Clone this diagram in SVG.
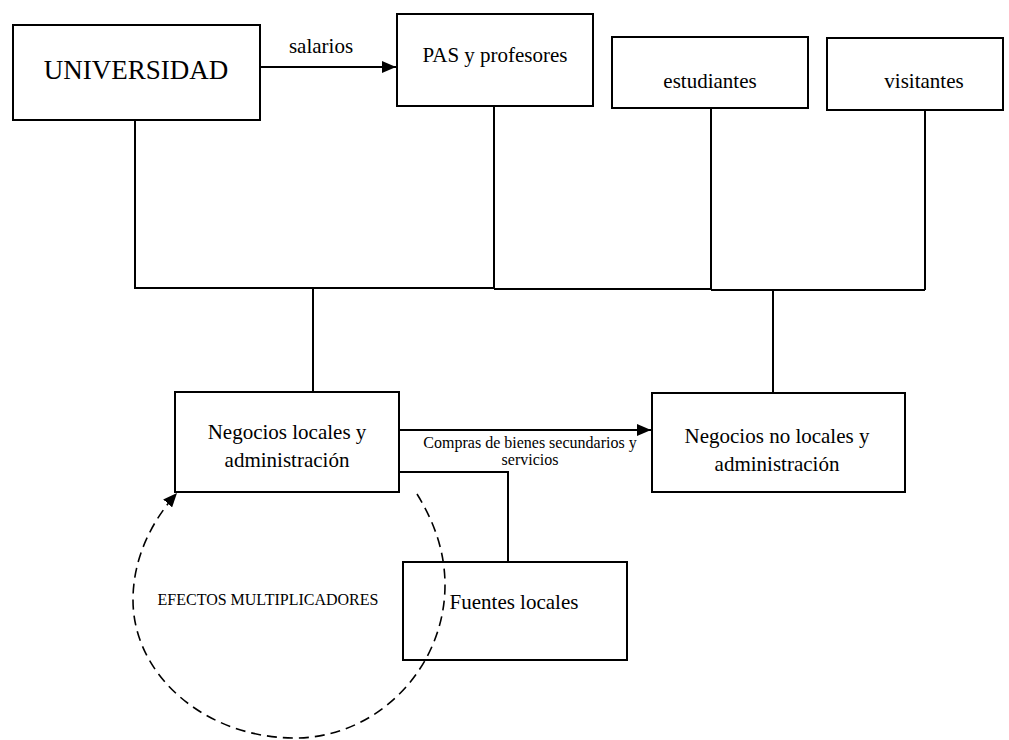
<svg xmlns="http://www.w3.org/2000/svg" width="1009" height="740" viewBox="0 0 1009 740">
<style>
.box{fill:#fff;stroke:#000;stroke-width:2}
.ln{fill:none;stroke:#000;stroke-width:2}
.dash{fill:none;stroke:#000;stroke-width:1.6;stroke-dasharray:10 6}
text{font-family:"Liberation Serif","Times New Roman",serif;fill:#000;text-anchor:middle}
</style>
<defs>
<marker id="ah" viewBox="0 0 14 12" refX="14" refY="6" markerWidth="14" markerHeight="12" markerUnits="userSpaceOnUse" orient="auto">
<path d="M0,0 L14,6 L0,12 z" fill="#000"/>
</marker>
</defs>
<g id="universidad"><rect class="box" x="13" y="25" width="247" height="95"/><text x="136" y="79" font-size="27">UNIVERSIDAD</text></g>
<g id="pas"><rect class="box" x="397" y="14" width="196" height="92"/><text x="495" y="62" font-size="21">PAS y profesores</text></g>
<g id="estudiantes"><rect class="box" x="612" y="37" width="196" height="71"/><text x="710" y="88" font-size="21">estudiantes</text></g>
<g id="visitantes"><rect class="box" x="827" y="38" width="176" height="72"/><text x="924" y="88" font-size="21">visitantes</text></g>
<g id="negocios-locales"><rect class="box" x="175" y="392" width="224" height="100"/><text x="287" y="439" font-size="21">Negocios locales y</text><text x="287" y="467" font-size="21">administración</text></g>
<g id="negocios-no-locales"><rect class="box" x="652" y="393" width="253" height="99"/><text x="777" y="443" font-size="21">Negocios no locales y</text><text x="777" y="471" font-size="21">administración</text></g>
<g id="fuentes"><rect class="box" x="403" y="562" width="224" height="98"/><text x="514" y="609" font-size="21">Fuentes locales</text></g>
<g id="connectors">
<path class="ln" d="M135,120 V288 H494 M494,106 V288 M494,289 H711 M711,108 V290 M711,290 H925 M925,110 V290"/>
<path class="ln" d="M313,288 V392 M773,290 V393"/>
<path class="ln" d="M260,67 H396" marker-end="url(#ah)"/>
<path class="ln" d="M399,430 H651" marker-end="url(#ah)"/>
<path class="ln" d="M399,472 H508 V562"/>
<path class="dash" d="M417,494 C433,520 445,550 445,585 C445,668 377,738 295,738 C205,738 133,675 133,600 C133,560 150,523 177,493" marker-end="url(#ah)"/>
<text x="321" y="53" font-size="21">salarios</text>
<text x="530" y="448" font-size="16">Compras de bienes secundarios y</text>
<text x="530" y="465" font-size="16">servicios</text>
<text x="268" y="605" font-size="16">EFECTOS MULTIPLICADORES</text>
</g>
</svg>
